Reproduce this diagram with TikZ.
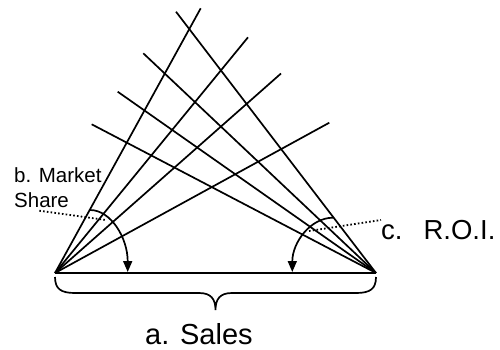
\documentclass[tikz,border=0pt]{standalone}
\usepackage{fontspec}
\setmainfont{Liberation Sans}
\usetikzlibrary{arrows.meta}
\begin{document}
\begin{tikzpicture}[x=1pt,y=-1pt,
  ray/.style={line width=1.7pt,black},
  base/.style={line width=1.7pt,black},
  turn/.style={line width=1.7pt,-{Triangle[length=11pt,width=9pt]}},
  pointer/.style={line width=1.8pt,dash pattern=on 1.6pt off 2.2pt},
  lbl/.style={inner sep=0pt,anchor=base west,text depth=0pt}]
\useasboundingbox (0,0) rectangle (500,349);
% vertices
\coordinate (L) at (55,273);
\coordinate (R) at (376,273);
% rays from left vertex
\coordinate (l1) at (200.7,8.3);
\coordinate (l2) at (248,37.3);
\coordinate (l3) at (281,73.5);
\coordinate (l4) at (329.3,122.7);
% rays from right vertex
\coordinate (r1) at (176,11.7);
\coordinate (r2) at (143.3,53.3);
\coordinate (r3) at (117.7,91.7);
\coordinate (r4) at (91.7,124.3);
\foreach \p in {l1,l2,l3,l4} \draw[ray] (L) -- (\p);
\foreach \p in {r1,r2,r3,r4} \draw[ray] (R) -- (\p);
\draw[base] (L) -- (R);
% angle arrows
\coordinate (la) at (90,210);
\coordinate (lb) at (127.7,272);
\draw[turn] (la) .. controls (110.8,210) and (127.7,237.8) .. (lb);
\coordinate (ra) at (333,217.7);
\coordinate (rb) at (292.3,272);
\draw[turn] (ra) .. controls (310.4,217.7) and (292.3,242.5) .. (rb);
% brace
\draw[line width=1.7pt] (55,277) .. controls (55,289) and (61,293) .. (75,293)
  -- (199,293) .. controls (211,293) and (215.5,299) .. (215.5,310)
  .. controls (215.5,299) and (220,293) .. (232,293)
  -- (356,293) .. controls (370,293) and (376,289) .. (376,277);
% labels
\node[lbl,font=\fontsize{20.5}{24}\selectfont] (mk1) at (14,182) {b. Market};
\node[lbl,font=\fontsize{20.5}{24}\selectfont] (mk2) at (14,207) {Share};
\node[lbl,font=\fontsize{27.5}{32}\selectfont] (roi) at (381,239) {c.\hspace{21pt}R.O.I.};
\node[lbl,font=\fontsize{29}{34}\selectfont] (sales) at (145,344) {a. Sales};
% dotted pointers
\coordinate (pa) at (39.3,210.7);
\coordinate (pb) at (106,220);
\draw[pointer] (pa) -- (pb);
\coordinate (qa) at (309,231);
\coordinate (qb) at (381,220);
\draw[pointer] (qa) -- (qb);
\end{tikzpicture}
\end{document}
